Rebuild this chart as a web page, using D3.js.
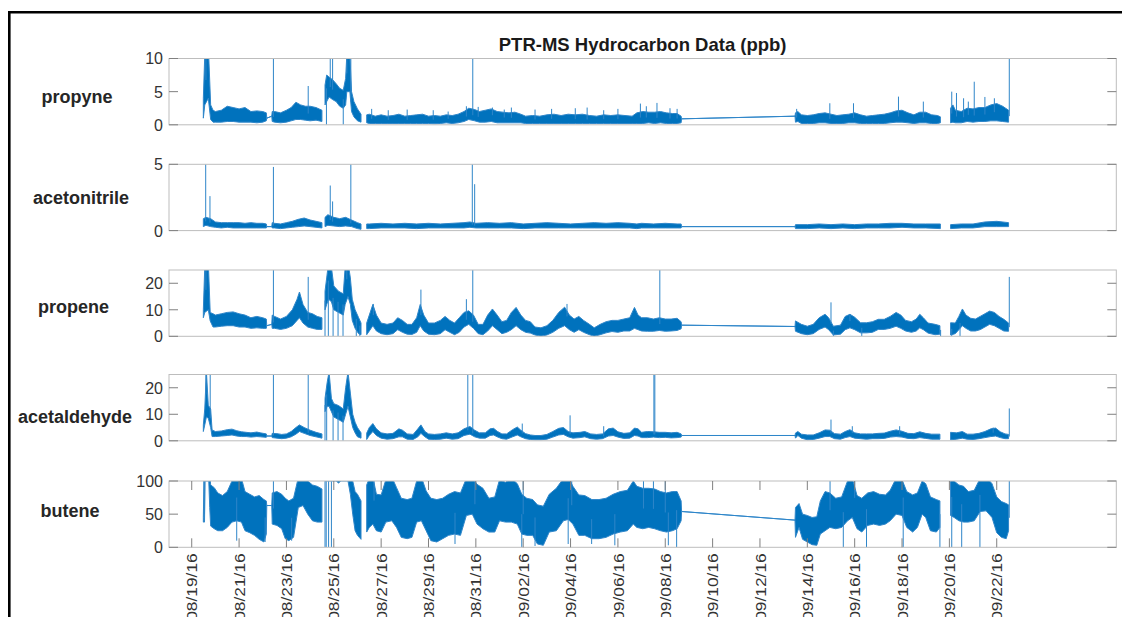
<!DOCTYPE html>
<html>
<head>
<meta charset="utf-8">
<script src="https://cdn.jsdelivr.net/npm/d3@7"></script>
<style>
  html, body { margin: 0; padding: 0; background: #fff; }
  svg { display: block; font-family: "Liberation Sans", Arial, Helvetica, sans-serif; }
</style>
</head>
<body>
<svg id="chart" width="1122" height="617"></svg>
<script>
// ---------------------------------------------------------------
// PTR-MS hydrocarbon mixing ratios (ppb), Aug 19 - Sep 22 2016.
// Each record is [day, low, high]: day counted from 08/19/16 00:00,
// low/high the range of the readings in that interval.
// A record with nulls marks a break in the measurements.
// Spike records are [day, value] for single isolated readings.
// ---------------------------------------------------------------

const title = "PTR-MS Hydrocarbon Data (ppb)";
const seriesNames = ["propyne", "acetonitrile", "propene", "acetaldehyde", "butene"];
const yMax = [10, 5, 25, 25, 100];
const yTicks = [[0, 5, 10], [0, 5], [0, 10, 20], [0, 10, 20], [0, 50, 100]];
const xTickLabels = ["08/19/16", "08/21/16", "08/23/16", "08/25/16", "08/27/16", "08/29/16",
  "08/31/16", "09/02/16", "09/04/16", "09/06/16", "09/08/16", "09/10/16", "09/12/16",
  "09/14/16", "09/16/16", "09/18/16", "09/20/16", "09/22/16"];

const propyne = [
  [0.49, 1.0, 4.0], [0.55, 3.0, 10.5], [0.7, 4.0, 12], [0.8, 0.8, 3.0], [0.9, 0.4, 2.2],
  [1.0, 0.4, 2.0], [1.25, 0.4, 2.2], [1.5, 0.5, 2.8], [1.75, 0.5, 2.6], [2.0, 0.4, 2.4],
  [2.25, 0.4, 2.6], [2.5, 0.4, 2.0], [2.75, 0.3, 2.1], [3.0, 0.4, 2.0], [3.15, 0.6, 1.8],
  [3.17, 1.0, 1.0], [3.38, 1.3, 1.3],
  [3.4, 0.5, 2.0], [3.5, 0.4, 2.0], [3.75, 0.3, 1.8], [4.0, 0.4, 2.2], [4.2, 0.6, 2.6],
  [4.4, 0.8, 3.4], [4.6, 0.8, 3.0], [4.8, 0.7, 2.8], [5.0, 0.6, 2.8], [5.25, 0.7, 2.6],
  [5.5, 0.5, 2.2], [5.52, null, null],
  [5.63, 3.0, 6.0], [5.7, 3.5, 7.5], [5.8, 4.2, 7.2], [5.95, 3.8, 6.8], [6.1, 3.5, 6.2],
  [6.25, 2.8, 5.5], [6.4, 2.5, 5.2], [6.5, 3.0, 7.0], [6.55, 5.0, 10.5], [6.68, 5.0, 10.5],
  [6.75, 2.0, 5.0], [6.85, 1.2, 3.5], [7.0, 0.6, 2.4], [7.15, 0.4, 1.6], [7.2, null, null],
  [7.39, 0.3, 1.5], [7.5, 0.2, 1.6], [7.75, 0.2, 1.3], [8.0, 0.2, 1.5], [8.25, 0.2, 1.3],
  [8.5, 0.2, 1.4], [8.75, 0.2, 1.6], [9.0, 0.2, 1.3], [9.25, 0.2, 1.4], [9.5, 0.2, 1.5],
  [9.75, 0.2, 1.6], [10.0, 0.2, 1.3], [10.25, 0.15, 1.4], [10.5, 0.2, 1.3], [10.75, 0.3, 1.5],
  [11.0, 0.2, 1.4], [11.25, 0.3, 1.6], [11.5, 0.5, 2.0], [11.7, 0.8, 2.5], [11.95, 0.6, 2.3],
  [12.15, 0.4, 2.0], [12.4, 0.4, 2.2], [12.65, 0.5, 2.4], [12.9, 0.3, 2.0], [13.15, 0.3, 1.9],
  [13.4, 0.3, 1.8], [13.65, 0.3, 1.9], [13.9, 0.3, 1.6], [14.1, 0.2, 1.3], [14.4, 0.2, 1.4],
  [14.7, 0.2, 1.3], [15.0, 0.2, 1.5], [15.3, 0.2, 1.6], [15.6, 0.2, 1.4], [15.9, 0.2, 1.6],
  [16.2, 0.2, 1.5], [16.5, 0.2, 1.6], [16.8, 0.2, 1.4], [17.1, 0.2, 1.3], [17.4, 0.2, 1.5],
  [17.7, 0.2, 1.4], [18.0, 0.2, 1.5], [18.3, 0.2, 1.4], [18.6, 0.2, 1.3], [18.8, 0.2, 1.8],
  [19.05, 0.2, 2.0], [19.3, 0.3, 1.9], [19.55, 0.2, 1.9], [19.8, 0.3, 2.0], [20.05, 0.2, 1.8],
  [20.3, 0.2, 1.7], [20.5, 0.2, 1.7], [20.67, 0.3, 1.3],
  [20.69, 0.9, 0.9], [25.48, 1.3, 1.3],
  [25.5, 0.4, 1.8], [25.6, 0.5, 2.0], [25.75, 0.2, 1.5], [26.0, 0.2, 1.4], [26.25, 0.2, 1.5],
  [26.5, 0.3, 1.7], [26.75, 0.3, 1.8], [27.0, 0.2, 1.6], [27.25, 0.2, 1.4], [27.5, 0.2, 1.5],
  [27.75, 0.3, 1.6], [28.0, 0.3, 1.8], [28.25, 0.2, 1.5], [28.5, 0.2, 1.3], [28.75, 0.2, 1.4],
  [29.0, 0.2, 1.5], [29.25, 0.2, 1.6], [29.5, 0.3, 1.8], [29.75, 0.4, 2.1], [30.0, 0.4, 2.2],
  [30.25, 0.3, 1.8], [30.5, 0.2, 1.5], [30.75, 0.3, 1.9], [31.0, 0.3, 1.9], [31.25, 0.2, 1.5],
  [31.5, 0.2, 1.4], [31.62, 0.3, 1.2], [31.64, null, null],
  [32.05, 0.3, 2.5], [32.15, 0.4, 3.0], [32.25, 0.3, 2.2], [32.5, 0.3, 2.0], [32.75, 0.5, 2.5],
  [33.0, 0.4, 2.4], [33.25, 0.5, 2.6], [33.5, 0.5, 2.6], [33.75, 0.6, 3.0], [34.0, 0.6, 3.2],
  [34.25, 0.5, 2.8], [34.5, 0.4, 2.2]
];
const propyneSpikes = [
  [0.6, 11], [3.45, 11], [4.92, 5.85], [5.69, 0], [5.85, 11], [5.95, 11], [6.4, 0], [6.55, 11],
  [6.72, 11], [7.6, 2.4], [8.3, 2.2], [9.1, 2.3], [10.2, 2.2], [10.83, 2.0], [11.6, 2.8],
  [11.87, 11], [12.1, 2.7], [12.7, 2.6], [13.2, 2.3], [13.5, 2.6], [14.5, 2.3], [15.2, 2.4],
  [16.2, 2.5], [16.7, 2.6], [17.4, 2.2], [18.0, 2.4], [18.95, 3.2], [19.2, 2.8], [19.65, 3.3],
  [20.2, 2.5], [20.5, 2.4], [25.55, 2.4], [26.95, 3.25], [27.95, 3.25], [29.85, 4.25],
  [30.9, 3.5], [32.1, 5.0], [32.3, 4.8], [32.6, 4.0], [32.8, 3.5], [33.05, 6.5], [33.5, 4.2],
  [33.9, 4.0], [34.53, 10.5]
];

const acetonitrile = [
  [0.49, 0.3, 0.9], [0.6, 0.4, 1.0], [0.8, 0.3, 0.9], [1.0, 0.25, 0.65], [1.25, 0.2, 0.6],
  [1.5, 0.25, 0.6], [1.75, 0.2, 0.6], [2.0, 0.2, 0.6], [2.25, 0.2, 0.55], [2.5, 0.2, 0.6],
  [2.75, 0.2, 0.55], [3.0, 0.2, 0.55], [3.15, 0.2, 0.5],
  [3.17, 0.3, 0.3], [3.38, 0.3, 0.3],
  [3.4, 0.2, 0.6], [3.5, 0.2, 0.55], [3.75, 0.15, 0.5], [4.0, 0.2, 0.6], [4.25, 0.25, 0.7],
  [4.5, 0.3, 0.85], [4.75, 0.35, 0.95], [5.0, 0.3, 0.8], [5.25, 0.25, 0.7], [5.5, 0.2, 0.6],
  [5.52, null, null],
  [5.63, 0.3, 1.0], [5.75, 0.4, 1.2], [6.0, 0.35, 1.0], [6.25, 0.3, 0.9], [6.5, 0.35, 1.0],
  [6.75, 0.3, 0.8], [7.0, 0.15, 0.6], [7.15, 0.1, 0.5], [7.2, null, null],
  [7.39, 0.15, 0.5], [7.5, 0.15, 0.5], [8.0, 0.2, 0.55], [8.5, 0.2, 0.5], [9.0, 0.2, 0.55],
  [9.5, 0.15, 0.5], [10.0, 0.2, 0.55], [10.5, 0.2, 0.5], [11.0, 0.2, 0.55], [11.5, 0.2, 0.6],
  [11.75, 0.25, 0.65], [12.0, 0.2, 0.55], [12.5, 0.2, 0.6], [13.0, 0.2, 0.55], [13.5, 0.2, 0.6],
  [14.0, 0.15, 0.5], [14.5, 0.2, 0.55], [15.0, 0.2, 0.6], [15.5, 0.2, 0.55], [16.0, 0.2, 0.5],
  [16.5, 0.2, 0.55], [17.0, 0.2, 0.6], [17.5, 0.2, 0.55], [18.0, 0.2, 0.6], [18.5, 0.2, 0.55],
  [18.8, 0.15, 0.5], [19.0, 0.2, 0.55], [19.5, 0.2, 0.5], [20.0, 0.2, 0.55], [20.5, 0.2, 0.5],
  [20.67, 0.2, 0.5],
  [20.69, 0.3, 0.3], [25.48, 0.3, 0.3],
  [25.5, 0.15, 0.45], [26.0, 0.15, 0.45], [26.5, 0.2, 0.5], [27.0, 0.15, 0.45], [27.5, 0.2, 0.5],
  [28.0, 0.15, 0.45], [28.5, 0.2, 0.5], [29.0, 0.2, 0.5], [29.5, 0.2, 0.55], [30.0, 0.25, 0.55],
  [30.5, 0.2, 0.5], [31.0, 0.2, 0.5], [31.62, 0.15, 0.5], [31.64, null, null],
  [32.05, 0.15, 0.45], [32.5, 0.2, 0.5], [33.0, 0.2, 0.5], [33.5, 0.3, 0.65], [34.0, 0.3, 0.7],
  [34.5, 0.3, 0.6]
];
const acetonitrileSpikes = [
  [0.59, 5.2], [0.77, 2.6], [3.45, 4.8], [5.85, 3.4], [5.95, 2.2], [6.72, 5.2], [11.85, 5.2],
  [11.95, 3.5]
];

const propene = [
  [0.49, 7, 10], [0.55, 9, 26], [0.7, 10, 28], [0.78, 5.8, 9], [0.9, 3.5, 8.5], [1.0, 3.5, 8],
  [1.25, 3.8, 8.5], [1.5, 4, 9], [1.75, 4, 9.2], [2.0, 3.5, 8.5], [2.25, 3.5, 8], [2.5, 3, 7],
  [2.75, 3.2, 7.5], [3.0, 3.0, 7.0], [3.15, 3, 6.5],
  [3.17, 4, 4], [3.38, 4.5, 4.5],
  [3.4, 3, 8], [3.5, 3, 7.5], [3.75, 2.6, 6.5], [4.0, 3, 7.5], [4.25, 4, 10], [4.45, 6, 14],
  [4.55, 7, 16.7], [4.7, 5, 12], [4.9, 3.5, 9], [5.1, 3, 8.5], [5.3, 2.6, 7.5], [5.5, 2.6, 7],
  [5.52, null, null],
  [5.63, 10, 17], [5.7, 12, 22], [5.78, 14, 28], [5.9, 13, 26], [6.0, 10, 19], [6.2, 9, 17],
  [6.4, 8, 16], [6.48, 12, 26], [6.6, 15, 28], [6.7, 12, 22], [6.78, 6, 14], [6.9, 3, 10],
  [7.05, 1, 7], [7.15, 0.6, 5], [7.2, null, null],
  [7.39, 0.6, 5], [7.5, 2, 8], [7.65, 4, 12], [7.8, 2, 8], [8.0, 1, 5], [8.25, 0.6, 4.5],
  [8.5, 1, 5], [8.7, 2.5, 7], [8.9, 1.5, 6], [9.1, 0.8, 4.5], [9.3, 0.7, 4.5], [9.5, 1.5, 7],
  [9.65, 4, 12], [9.8, 2, 8], [10.0, 0.8, 5], [10.25, 0.6, 5], [10.5, 1, 6], [10.7, 2.5, 7.5],
  [10.9, 1.5, 6], [11.1, 0.6, 5], [11.3, 1.5, 7], [11.5, 3.5, 9], [11.7, 4.5, 9.6], [11.9, 3, 8],
  [12.1, 1, 4.5], [12.3, 0.6, 4.5], [12.5, 2, 8], [12.7, 4, 10.3], [12.9, 2.5, 8], [13.1, 1, 5.5],
  [13.3, 1.5, 6], [13.5, 2.5, 9], [13.7, 4, 10.9], [13.9, 2.5, 8], [14.1, 1.5, 6], [14.3, 1.2, 5.5],
  [14.5, 0.5, 3.5], [14.75, 0, 3.2], [15.0, 0.5, 4], [15.25, 1.5, 6], [15.5, 3, 9], [15.75, 4, 11],
  [15.95, 2.5, 8], [16.15, 1.5, 6.5], [16.35, 2.5, 7.5], [16.55, 1.5, 6], [16.8, 0.6, 4.5],
  [17.0, 0, 3.2], [17.25, 0.6, 4.5], [17.5, 1.3, 5.5], [17.75, 1.8, 6], [18.0, 1.5, 6],
  [18.25, 2, 6.5], [18.5, 2, 7], [18.7, 3, 10.9], [18.85, 2.5, 8], [19.0, 2, 7], [19.25, 1.9, 7],
  [19.5, 1.9, 6.5], [19.75, 2.2, 7], [20.0, 1.9, 6.5], [20.25, 2, 6.5], [20.5, 2.2, 6.8],
  [20.67, 2.8, 5.5],
  [20.69, 4.2, 4.2], [25.48, 3.7, 3.7],
  [25.5, 1.9, 5.8], [25.75, 1, 4.5], [26.0, 0.6, 3.8], [26.25, 1, 4.5], [26.5, 2.6, 7],
  [26.75, 3.5, 8.3], [26.9, 2.5, 7], [27.1, 0.5, 3.8], [27.4, 0.8, 4.2], [27.6, 2.5, 7.5],
  [27.8, 3.2, 8.3], [28.0, 2.5, 7.2], [28.25, 1.3, 5.1], [28.5, 1.3, 5.1], [28.75, 1.5, 5.5],
  [29.0, 2.6, 6.4], [29.25, 2.6, 6.4], [29.5, 3, 7.5], [29.75, 3.8, 9], [29.95, 3, 8],
  [30.15, 2, 6], [30.4, 1.5, 5.5], [30.6, 2, 6.5], [30.75, 3.2, 8.3], [30.9, 2.5, 7],
  [31.1, 1.2, 5], [31.4, 0.6, 4.5], [31.6, 0.8, 4], [31.64, null, null],
  [32.05, 0.5, 5.1], [32.25, 1, 5], [32.4, 2.5, 7.5], [32.55, 4, 10.3], [32.7, 3, 8],
  [32.9, 2, 6.8], [33.1, 2, 6.5], [33.3, 2.5, 7.5], [33.5, 3.5, 8.5], [33.7, 4.5, 9.5],
  [33.9, 4, 9], [34.1, 3, 7.5], [34.3, 2, 6.4], [34.5, 1.9, 5]
];
const propeneSpikes = [
  [0.6, 28], [3.45, 28], [4.92, 22.4], [5.63, 0], [5.77, 0], [5.97, 0], [6.18, 0], [6.39, 0],
  [6.55, 28], [6.95, 0], [7.1, 0], [7.67, 12.2], [9.68, 17.6], [11.6, 14], [11.87, 28],
  [15.85, 12.2], [19.77, 28], [27.0, 12.8], [27.1, 0], [27.8, 8.3], [28.3, 0], [31.63, 0],
  [32.1, 0], [32.45, 0], [34.53, 22.4]
];

const acetaldehyde = [
  [0.49, 3.5, 6], [0.55, 6, 12], [0.62, 9, 26], [0.7, 8.5, 13.4], [0.8, 5, 12], [0.86, 1.6, 4.1],
  [1.0, 1.6, 3.5], [1.25, 1.8, 3.7], [1.5, 2, 4.2], [1.7, 2.2, 4.4], [1.9, 1.8, 3.8],
  [2.1, 1.6, 3.4], [2.3, 1.6, 3.2], [2.5, 1.4, 3.0], [2.75, 1.6, 3.3], [2.9, 1.5, 3.0],
  [3.15, 1.3, 2.6],
  [3.17, 1.8, 1.8], [3.38, 1.8, 1.8],
  [3.4, 1.2, 2.8], [3.6, 1.0, 2.7], [3.8, 0.8, 2.4], [4.0, 1, 2.6], [4.2, 1.5, 3.5], [4.4, 2.5, 5],
  [4.55, 3.5, 6], [4.75, 2.8, 5], [5.0, 2, 4], [5.25, 1.5, 3.2], [5.5, 1, 2.6], [5.52, null, null],
  [5.63, 11, 16], [5.72, 13, 22], [5.8, 13, 26], [5.9, 11, 16], [6.0, 9, 14], [6.2, 8, 13.3],
  [6.4, 7, 12], [6.5, 10, 20], [6.6, 13, 26], [6.7, 9, 18], [6.8, 5, 10], [6.9, 3, 7],
  [7.0, 1.5, 5], [7.15, 1, 3], [7.2, null, null],
  [7.39, 0.5, 2.9], [7.5, 2, 5], [7.65, 3.5, 6.5], [7.8, 2, 4.5], [8.0, 1, 3], [8.25, 0.6, 2.6],
  [8.5, 0.8, 2.8], [8.75, 1.5, 4.5], [8.9, 1.5, 4], [9.1, 0.6, 2.6], [9.35, 0.5, 2.4],
  [9.55, 1.5, 4.5], [9.68, 2.8, 6], [9.85, 1.5, 3.5], [10.0, 0.6, 2.6], [10.25, 0.5, 2.4],
  [10.5, 0.6, 2.6], [10.75, 1, 3], [11.0, 0.6, 2.6], [11.25, 0.8, 3], [11.5, 2, 4.5],
  [11.75, 2.5, 5.4], [11.95, 1.5, 4], [12.15, 1, 3], [12.4, 1, 3], [12.6, 2, 4.5],
  [12.75, 2.2, 4.7], [12.9, 1.5, 3.6], [13.1, 0.8, 2.6], [13.3, 0.6, 2.6], [13.55, 1.5, 4.2],
  [13.75, 2.2, 5.2], [13.9, 1.5, 4], [14.1, 0.8, 2.7], [14.3, 0.5, 2.2], [14.5, 0.4, 2],
  [14.75, 0.4, 2], [15.0, 0.6, 2.4], [15.25, 1.4, 3.5], [15.5, 2.2, 4.7], [15.7, 2.4, 5],
  [15.9, 1.5, 3.5], [16.1, 1, 3], [16.4, 1.2, 3.2], [16.6, 1.5, 3.5], [16.85, 0.8, 2.6],
  [17.1, 0.6, 2.4], [17.35, 0.8, 2.6], [17.6, 1.8, 4.5], [17.8, 2, 4.8], [18.0, 1.4, 3.4],
  [18.25, 0.9, 2.8], [18.5, 1, 3], [18.7, 2, 4.8], [18.85, 1.8, 4.5], [19.0, 1.2, 3.2],
  [19.25, 1.2, 3.5], [19.5, 1.4, 3.4], [19.75, 1.2, 3.2], [20.0, 1.3, 3.2], [20.25, 1.1, 3.0],
  [20.5, 1.2, 3.2], [20.67, 1.4, 2.6],
  [20.69, 2, 2], [25.48, 2, 2],
  [25.5, 1, 2.9], [25.6, 2, 3.5], [25.75, 1, 2.5], [26.0, 0.4, 2.2], [26.25, 0.5, 2.2],
  [26.5, 1, 3], [26.75, 1.6, 4.1], [26.95, 1.6, 4], [27.15, 0.8, 2.7], [27.4, 0.6, 2.5],
  [27.6, 1.2, 3.5], [27.8, 1.6, 4.2], [28.0, 1, 3], [28.25, 0.8, 2.6], [28.5, 0.6, 2.6],
  [28.75, 0.8, 2.6], [29.0, 0.8, 2.8], [29.25, 0.9, 2.9], [29.5, 1.4, 3.6], [29.75, 1.6, 4.1],
  [30.0, 1.4, 3.6], [30.25, 0.9, 2.8], [30.5, 0.8, 2.7], [30.75, 1.2, 3.4], [31.0, 0.9, 2.8],
  [31.25, 0.6, 2.5], [31.6, 0.6, 2.5], [31.64, null, null],
  [32.05, 0.4, 3.2], [32.3, 0.6, 3], [32.55, 1, 3.5], [32.75, 0.6, 2.5], [33.0, 0.5, 2.5],
  [33.25, 0.8, 2.8], [33.5, 1.2, 3.5], [33.75, 1.6, 4.5], [33.95, 1.8, 4.8], [34.15, 1.2, 3.4],
  [34.35, 0.8, 2.6], [34.5, 0.8, 2.4]
];
const acetaldehydeSpikes = [
  [0.6, 26], [0.78, 26], [3.45, 26], [4.92, 26], [5.63, 0], [5.7, 0], [5.97, 0], [6.18, 0],
  [6.39, 0], [11.66, 26], [11.87, 26], [13.96, 6.5], [15.98, 9.6], [17.4, 5.5], [19.52, 26],
  [19.56, 26], [27.0, 8], [27.9, 5.5], [29.9, 5.5], [33.85, 5.0], [34.53, 12.2]
];

const butene = [
  [0.49, 38, 45], [0.52, 38, 110], [0.54, 38, 50], [0.56, 100, 150], [0.72, 100, 150],
  [0.76, 60, 110], [0.8, 32, 94], [0.95, 28, 90], [1.1, 25, 82], [1.3, 25, 78], [1.5, 30, 84],
  [1.7, 38, 100], [1.9, 40, 110], [2.1, 38, 104], [2.25, 25, 84], [2.45, 22, 80], [2.65, 18, 76],
  [2.85, 12, 78], [3.05, 8, 72], [3.15, 20, 70],
  [3.17, 63, 63], [3.38, 63, 63],
  [3.4, 35, 82], [3.6, 33, 84], [3.8, 28, 80], [3.95, 13, 74], [4.1, 10, 70], [4.3, 15, 74],
  [4.5, 60, 105], [4.7, 63, 110], [4.9, 50, 100], [5.1, 40, 94], [5.3, 38, 92], [5.5, 38, 88],
  [5.52, null, null],
  [5.63, 100, 150], [6.1, 100, 150], [6.2, 97, 150], [6.3, 100, 150], [6.6, 100, 150],
  [6.7, 80, 130], [6.8, 50, 100], [6.9, 25, 84], [7.0, 18, 80], [7.15, 12, 70], [7.2, null, null],
  [7.39, 23, 94], [7.5, 30, 104], [7.65, 35, 106], [7.8, 25, 80], [8.0, 23, 79], [8.2, 38, 102],
  [8.45, 40, 106], [8.65, 30, 90], [8.85, 15, 74], [9.1, 13, 72], [9.3, 15, 74], [9.5, 38, 100],
  [9.7, 40, 106], [9.9, 25, 85], [10.1, 10, 74], [10.35, 8, 72], [10.6, 13, 74], [10.85, 18, 80],
  [11.1, 20, 84], [11.35, 18, 82], [11.6, 48, 104], [11.85, 50, 106], [12.05, 35, 95],
  [12.3, 28, 89], [12.55, 23, 74], [12.8, 23, 76], [13.0, 40, 102], [13.25, 38, 98],
  [13.5, 38, 104], [13.75, 35, 96], [13.94, 20, 80], [14.15, 18, 74], [14.4, 18, 72],
  [14.6, 5, 64], [14.85, 3, 62], [15.1, 23, 80], [15.4, 25, 89], [15.7, 40, 104], [15.9, 42, 106],
  [16.1, 35, 92], [16.35, 18, 79], [16.6, 18, 78], [16.9, 13, 72], [17.2, 13, 72], [17.5, 15, 74],
  [17.8, 20, 80], [18.1, 23, 84], [18.4, 25, 86], [18.65, 35, 100], [18.8, 30, 92],
  [19.05, 28, 89], [19.3, 30, 89], [19.55, 28, 88], [19.8, 25, 84], [20.05, 23, 82],
  [20.3, 25, 84], [20.5, 28, 84], [20.67, 40, 70],
  [20.69, 54, 54], [25.48, 41, 41],
  [25.5, 15, 60], [25.65, 30, 66], [25.8, 12, 50], [26.0, 8, 48], [26.2, 4, 45], [26.4, 3, 46],
  [26.55, 20, 70], [26.75, 25, 84], [26.95, 30, 82], [27.2, 28, 74], [27.45, 30, 76],
  [27.7, 40, 100], [27.9, 45, 104], [28.1, 28, 78], [28.3, 23, 74], [28.55, 33, 82],
  [28.8, 35, 84], [29.05, 33, 80], [29.3, 35, 79], [29.5, 40, 86], [29.75, 50, 104],
  [30.0, 48, 102], [30.2, 30, 84], [30.45, 23, 79], [30.65, 30, 82], [30.85, 50, 100],
  [31.0, 45, 96], [31.2, 25, 76], [31.45, 23, 72], [31.6, 30, 70], [31.64, null, null],
  [32.05, 48, 104], [32.2, 45, 100], [32.4, 40, 94], [32.6, 38, 92], [32.8, 38, 84],
  [33.05, 40, 86], [33.3, 54, 104], [33.55, 55, 106], [33.8, 45, 96], [34.0, 22, 76],
  [34.2, 15, 69], [34.4, 13, 66], [34.5, 25, 64]
];
const buteneSpikes = [
  [1.9, 10], [3.1, 8], [3.45, 110], [4.22, 10], [5.63, 0], [5.68, 0], [5.72, 110], [5.78, 0],
  [5.88, 110], [5.9, 0], [7.7, 110], [11.12, 5], [11.96, 110], [13.94, 0], [14.0, 110],
  [14.5, 2], [15.9, 5], [16.05, 110], [16.89, 5], [17.87, 3], [19.08, 110], [19.5, 110],
  [20.0, 110], [20.13, 3], [20.48, 0], [26.96, 110], [27.52, 0], [28.0, 110], [28.5, 0],
  [30.05, 0], [31.6, 0], [32.1, 0], [32.52, 0], [33.29, 0], [34.53, 110]
];

// ---------------------------------------------------------------
// Drawing
// ---------------------------------------------------------------
const series = [propyne, acetonitrile, propene, acetaldehyde, butene];
const spikes = [propyneSpikes, acetonitrileSpikes, propeneSpikes, acetaldehydeSpikes, buteneSpikes];

const BLUE = "#0072BD";
const EDGE = "#2f86c9";
const DAY0 = new Date(2016, 7, 19);
const toDate = d => new Date(DAY0.getTime() + d * 864e5);
const parseTick = d3.timeParse("%m/%d/%y");

const plotLeft = 169, plotRight = 1116.3;
const panelTop = [58.5, 164.3, 270, 374.5, 481];
const panelH = 66.3;
const labelX = [77, 81, 73.5, 75, 70];
const labelY = [103, 204, 313, 422.5, 516.7];
const tickLen = 9;

const svg = d3.select("#chart");

// outer frame (top and left edges)
svg.append("path")
  .attr("d", "M9.3,617V12.3H1122")
  .attr("fill", "none").attr("stroke", "#000").attr("stroke-width", 2.6);

const x = d3.scaleTime()
  .domain([toDate(-0.96), toDate(39.05)])
  .range([plotLeft, plotRight]);

svg.append("text")
  .attr("x", (plotLeft + plotRight) / 2).attr("y", 51)
  .attr("text-anchor", "middle")
  .attr("font-size", 18.5).attr("font-weight", "bold").attr("fill", "#1a1a1a")
  .text(title);

// nearest band centre, used as the foot of a spike
function bandMid(rows, d) {
  let best = null, bestDist = Infinity;
  for (const r of rows) {
    if (r[1] == null) continue;
    const dist = Math.abs(r[0] - d);
    if (dist < bestDist) { bestDist = dist; best = r; }
  }
  return (best[1] + best[2]) / 2;
}

seriesNames.forEach((name, i) => {
  const top = panelTop[i], bottom = top + panelH;
  const y = d3.scaleLinear().domain([0, yMax[i]]).range([bottom, top]);
  const g = svg.append("g");

  const clipId = "clip-" + name;
  svg.append("clipPath").attr("id", clipId)
    .append("rect").attr("x", plotLeft).attr("y", top)
    .attr("width", plotRight - plotLeft).attr("height", panelH);

  const area = d3.area()
    .defined(r => r[1] != null)
    .x(r => x(toDate(r[0])))
    .y0(r => y(r[1]))
    .y1(r => y(r[2]));

  const marks = g.append("g").attr("clip-path", `url(#${clipId})`);
  marks.append("path")
    .datum(series[i])
    .attr("d", area)
    .attr("fill", BLUE)
    .attr("stroke", EDGE)
    .attr("stroke-width", 1)
    .attr("stroke-linejoin", "round");

  marks.selectAll("line.spike")
    .data(spikes[i])
    .join("line")
    .attr("class", "spike")
    .attr("x1", s => x(toDate(s[0]))).attr("x2", s => x(toDate(s[0])))
    .attr("y1", s => y(bandMid(series[i], s[0])))
    .attr("y2", s => y(s[1]))
    .attr("stroke", EDGE).attr("stroke-width", 1);

  // axes box
  g.append("rect")
    .attr("x", plotLeft).attr("y", top)
    .attr("width", plotRight - plotLeft).attr("height", panelH)
    .attr("fill", "none").attr("stroke", "#bdbdbd").attr("stroke-width", 1);

  // y ticks (inside, both sides) and labels
  yTicks[i].forEach(t => {
    const ty = y(t);
    g.append("line").attr("x1", plotLeft).attr("x2", plotLeft + tickLen)
      .attr("y1", ty).attr("y2", ty).attr("stroke", "#808080");
    g.append("line").attr("x1", plotRight - tickLen).attr("x2", plotRight)
      .attr("y1", ty).attr("y2", ty).attr("stroke", "#808080");
    g.append("text")
      .attr("x", plotLeft - 6).attr("y", ty).attr("dy", "0.37em")
      .attr("text-anchor", "end").attr("font-size", 16).attr("fill", "#333")
      .text(t);
  });

  // series name
  g.append("text")
    .attr("x", labelX[i]).attr("y", labelY[i])
    .attr("text-anchor", "middle")
    .attr("font-size", 18).attr("font-weight", "bold").attr("fill", "#262626")
    .text(name);

  // date axis under the last panel
  if (i === seriesNames.length - 1) {
    xTickLabels.forEach(lbl => {
      const tx = x(parseTick(lbl));
      g.append("line").attr("x1", tx).attr("x2", tx)
        .attr("y1", bottom).attr("y2", bottom - tickLen).attr("stroke", "#808080");
      g.append("line").attr("x1", tx).attr("x2", tx)
        .attr("y1", top).attr("y2", top + tickLen).attr("stroke", "#808080");
      g.append("text")
        .attr("transform", `translate(${tx},${bottom + 6}) rotate(-90) scale(1.12,1)`)
        .attr("dy", "0.36em")
        .attr("text-anchor", "end").attr("font-size", 15.5).attr("fill", "#333")
        .text(lbl);
    });
  }
});
</script>
</body>
</html>
